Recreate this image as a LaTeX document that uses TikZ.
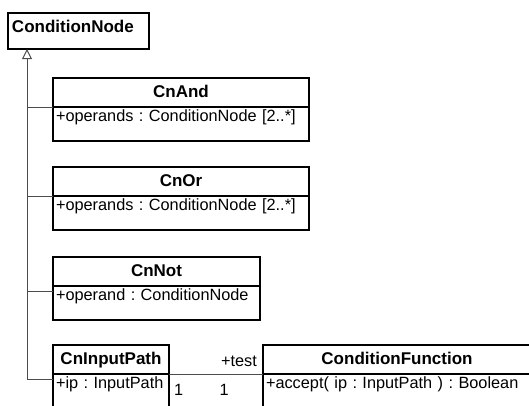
\documentclass[tikz,border=0pt]{standalone}
\usepackage{fontspec}
\setmainfont{Liberation Sans}
\usetikzlibrary{positioning,arrows.meta}
\tikzset{
  classhead/.style={draw, line width=1.2pt, outer sep=0pt, anchor=north west, font=\fontsize{17}{20}\selectfont\bfseries, minimum height=29pt, inner sep=2pt, text height=12pt, text depth=3pt},
  classattr/.style={draw, line width=1.2pt, outer sep=0pt, anchor=north, align=left, font=\fontsize{16.3}{19}\selectfont\frenchspacing, inner xsep=3pt, inner ysep=2pt, text height=12pt, text depth=18pt},
  gen/.style={draw=black!70, line width=1pt},
  assoc/.style={draw=black!70, line width=1pt},
  role/.style={font=\fontsize{16.3}{19}\selectfont, inner sep=1pt}
}

\begin{document}
\begin{tikzpicture}[x=1pt, y=-1pt]
  \useasboundingbox (0,0) rectangle (529,405);
  \clip (0,0) rectangle (529,405);
  % root class
  \node[classhead, text width=133pt, align=left, inner xsep=4pt, text height=17pt, text depth=15pt] (cnode) at (8,13) {ConditionNode};
  % subclasses
  \node[classhead, minimum width=256pt] (cnand) at (53,78) {CnAnd};
  \node[classattr, text width=250pt, below=0pt of cnand] (cnandattr) {+operands : ConditionNode [2..*]};
  \node[classhead, minimum width=256pt] (cnor) at (53,167) {CnOr};
  \node[classattr, text width=250pt, below=0pt of cnor] (cnorattr) {+operands : ConditionNode [2..*]};
  \node[classhead, minimum width=207pt] (cnnot) at (53,257) {CnNot};
  \node[classattr, text width=201pt, below=0pt of cnnot] (cnnotattr) {+operand : ConditionNode};
  \node[classhead, minimum width=116pt] (cninput) at (53,345) {CnInputPath};
  \node[classattr, text width=110pt, below=0pt of cninput] (cninputattr) {+ip : InputPath};
  \node[classhead, minimum width=268pt] (cfunc) at (263,345) {ConditionFunction};
  \node[classattr, text width=262pt, below=0pt of cfunc] (cfuncattr) {+accept( ip : InputPath ) : Boolean};
  % generalization
  \coordinate (trunk) at ([xshift=19pt]cnode.south west);
  \draw[gen] (cnand.south west) -- (cnand.south west -| trunk);
  \draw[gen] (cnor.south west) -- (cnor.south west -| trunk);
  \draw[gen] ([yshift=-5pt]cnnot.south west) -- ([yshift=-5pt]cnnot.south west -| trunk);
  \draw[gen, -{Triangle[open, length=10pt, width=10pt]}] ([yshift=-5pt]cninput.south west) -| (trunk);
  % association
  \draw[assoc] (cninput.south east) -- (cfunc.south west);
  \node[role, above left=6pt and 5pt of cfunc.south west] (testrole) {+test};
  \node[role, below right=9pt and 4pt of cninput.south east] (inputmult) {1};
  \node[role, below left=9pt and 33pt of cfunc.south west] (funcmult) {1};
\end{tikzpicture}
\end{document}
